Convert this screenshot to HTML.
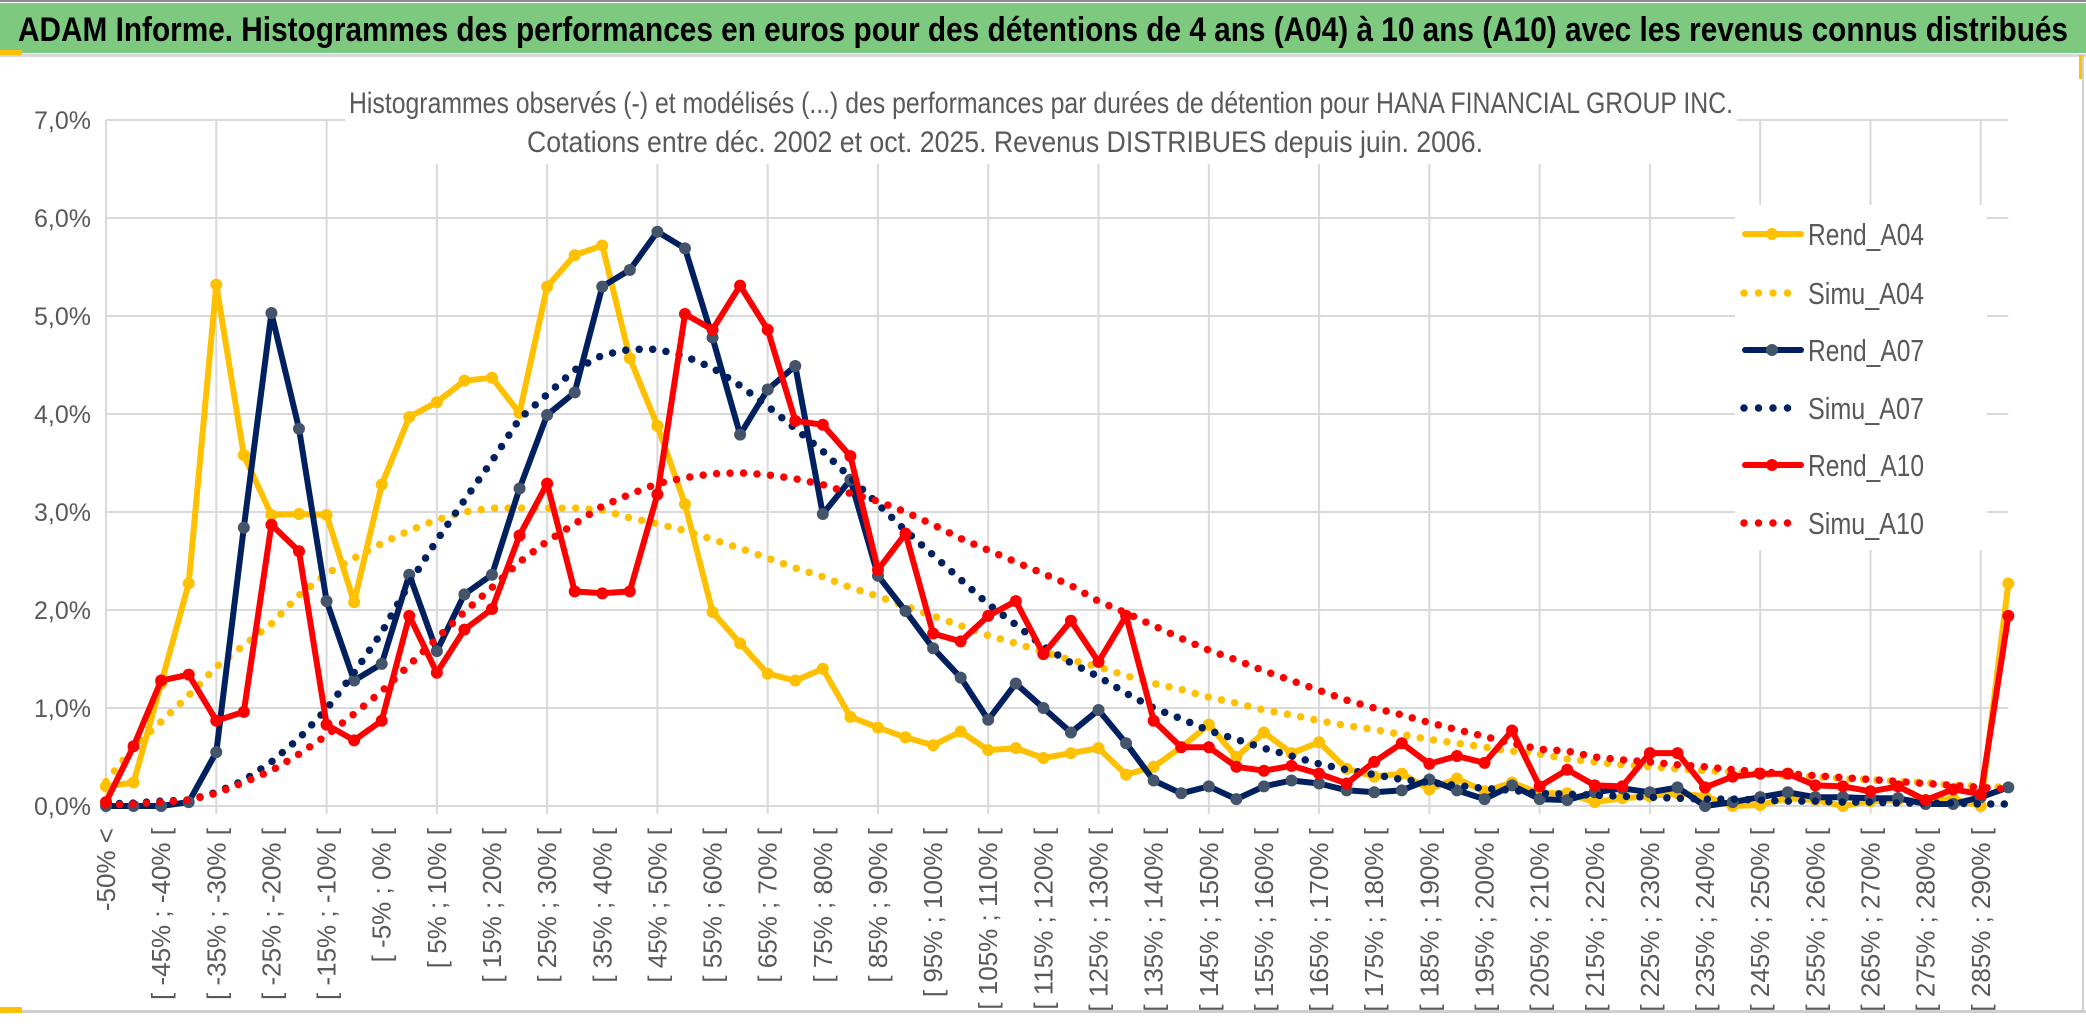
<!DOCTYPE html>
<html><head><meta charset="utf-8"><style>
html,body{margin:0;padding:0;background:#fff;}
svg{display:block;}
text{font-family:"Liberation Sans",sans-serif;}
</style></head><body>
<svg id="chart" width="2086" height="1033" viewBox="0 0 2086 1033" xmlns="http://www.w3.org/2000/svg">
<rect x="0" y="0" width="2086" height="1033" fill="#fff"/>
<rect x="0" y="0" width="2086" height="2" fill="#8a8a8a"/>
<rect x="0" y="3" width="2086" height="50" fill="#7dc97f"/>
<text x="18" y="41" font-size="34" font-weight="bold" fill="#000" textLength="2050" lengthAdjust="spacingAndGlyphs">ADAM Informe. Histogrammes des performances en euros pour des détentions de 4 ans (A04) à 10 ans (A10) avec les revenus connus distribués</text>
<rect x="0" y="54" width="2086" height="3" fill="#d9d9d9"/>
<rect x="0" y="50" width="22" height="5" fill="#ffc000"/>
<rect x="2079" y="55" width="4" height="24" fill="#ffc000"/>
<rect x="2082" y="57" width="2" height="955" fill="#d0d0d0"/>
<g id="grid"></g>
<rect x="345" y="80" width="1392" height="84" fill="#fff"/>
<text x="349" y="113" font-size="30" fill="#595959" textLength="1384" lengthAdjust="spacingAndGlyphs">Histogrammes observés (-) et modélisés (...) des performances par durées de détention pour HANA FINANCIAL GROUP INC.</text>
<text x="527" y="152" font-size="30" fill="#595959" textLength="956" lengthAdjust="spacingAndGlyphs">Cotations entre déc. 2002 et oct. 2025. Revenus DISTRIBUES depuis juin. 2006.</text>
<g id="yaxis"></g>
<g id="xaxis"></g>
<g id="series"></g>
<g id="legend"></g>
<rect x="0" y="1010" width="2086" height="3" fill="#cfcfcf"/>
<rect x="0" y="1007" width="22" height="6" fill="#ffc000"/>
</svg>
<script>
const categories = [];
categories.push("-50% <");
for (let k = 1; k < 70; k++) { const a = -50 + 5 * (k - 1); categories.push("[ " + a + "% ; " + (a + 5) + "% ["); }
const yTicks = [0,1,2,3,4,5,6,7];
const yTickLabels = ["0,0%","1,0%","2,0%","3,0%","4,0%","5,0%","6,0%","7,0%"];
const rendA04 = [0.20,0.24,1.25,2.27,5.32,3.58,2.97,2.98,2.97,2.08,3.28,3.97,4.12,4.34,4.37,4.01,5.30,5.62,5.72,
4.57,3.88,3.08,1.98,1.66,1.35,1.28,1.40,0.91,0.80,0.70,0.62,0.76,0.57,0.59,0.49,0.54,
0.59,0.32,0.40,0.60,0.83,0.50,0.75,0.54,0.65,0.38,0.30,0.33,0.17,0.28,0.15,0.24,0.13,
0.13,0.04,0.08,0.10,0.13,0.10,0.00,0.01,0.08,0.06,0.00,0.05,0.06,0.06,0.07,0.00,2.27];
const simuA04 = [0.25,0.60,0.86,1.13,1.42,1.64,1.86,2.15,2.37,2.53,2.68,2.81,2.92,3.00,3.04,3.04,3.04,3.04,3.02,
2.94,2.88,2.81,2.72,2.63,2.53,2.43,2.34,2.23,2.14,2.04,1.94,1.84,1.74,1.66,1.57,1.49,
1.42,1.33,1.25,1.19,1.11,1.05,0.98,0.93,0.87,0.82,0.78,0.73,0.68,0.64,0.60,0.56,0.53,
0.48,0.45,0.42,0.40,0.38,0.36,0.35,0.33,0.31,0.30,0.28,0.27,0.25,0.24,0.21,0.20,0.19];
const rendA07 = [0,0,0,0.04,0.55,2.84,5.03,3.85,2.09,1.28,1.45,2.36,1.58,2.16,2.36,3.24,3.99,4.22,5.30,
5.47,5.86,5.69,4.78,3.79,4.25,4.49,2.98,3.33,2.35,1.99,1.61,1.31,0.88,1.25,1.00,0.75,
0.98,0.64,0.26,0.13,0.20,0.07,0.20,0.26,0.23,0.16,0.14,0.16,0.27,0.16,0.07,0.21,0.07,
0.06,0.14,0.18,0.14,0.19,0.00,0.04,0.09,0.14,0.09,0.09,0.08,0.08,0.02,0.02,0.09,0.19];
const simuA07 = [0.02,0.03,0.05,0.06,0.14,0.26,0.45,0.69,0.99,1.36,1.77,2.27,2.71,3.12,3.52,3.95,4.20,4.45,4.60,
4.66,4.66,4.59,4.47,4.29,4.08,3.85,3.62,3.35,3.08,2.81,2.56,2.31,2.06,1.85,1.63,1.46,
1.32,1.15,1.00,0.89,0.77,0.68,0.59,0.51,0.43,0.37,0.32,0.27,0.24,0.21,0.18,0.16,0.13,
0.12,0.11,0.10,0.09,0.08,0.07,0.07,0.06,0.05,0.05,0.04,0.04,0.03,0.03,0.03,0.02,0.02];
const rendA10 = [0.04,0.61,1.28,1.34,0.87,0.96,2.87,2.60,0.83,0.67,0.87,1.94,1.36,1.80,2.01,2.76,3.29,2.19,2.17,
2.19,3.18,5.02,4.86,5.31,4.86,3.93,3.89,3.57,2.41,2.78,1.76,1.68,1.94,2.09,1.55,1.89,
1.47,1.94,0.87,0.60,0.60,0.40,0.36,0.41,0.33,0.23,0.45,0.64,0.43,0.51,0.44,0.77,0.20,
0.37,0.21,0.20,0.54,0.54,0.19,0.30,0.33,0.33,0.21,0.20,0.15,0.20,0.06,0.17,0.12,1.94];
const simuA10 = [0.01,0.02,0.04,0.06,0.13,0.24,0.36,0.53,0.72,0.94,1.17,1.44,1.71,1.98,2.23,2.49,2.70,2.88,3.06,
3.18,3.29,3.35,3.39,3.40,3.38,3.34,3.28,3.19,3.11,3.00,2.87,2.73,2.61,2.49,2.37,2.25,
2.09,1.97,1.84,1.71,1.59,1.49,1.38,1.28,1.18,1.08,1.00,0.93,0.85,0.78,0.71,0.64,0.58,
0.56,0.50,0.47,0.45,0.42,0.40,0.37,0.35,0.33,0.31,0.29,0.27,0.25,0.23,0.21,0.19,0.17];
const seriesNames = ["Rend_A04","Simu_A04","Rend_A07","Simu_A07","Rend_A10","Simu_A10"];

const NS = "http://www.w3.org/2000/svg";
const X0 = 106, DX = 27.57, Y0 = 806, DY = 98;
function xs(i){ return X0 + DX * i; }
function ys(v){ return Y0 - DY * v; }
function mk(tag, attrs, parent){ const e = document.createElementNS(NS, tag); for (const k in attrs) e.setAttribute(k, attrs[k]); parent.appendChild(e); return e; }

const grid = document.getElementById("grid");
const xRight = xs(categories.length - 1);
yTicks.forEach(function(t){
  const l = mk("line", {x1: X0, x2: xRight, y1: ys(t), y2: ys(t), stroke: "#d9d9d9", "stroke-width": 2}, grid);
  
  
});
for (let i = 0; i < categories.length; i += 4) {
  const l = mk("line", {x1: xs(i), x2: xs(i), y1: ys(7), y2: Y0 + 8, stroke: "#d9d9d9", "stroke-width": 2}, grid);
  
  
}

const yaxis = document.getElementById("yaxis");
yTicks.forEach(function(t, k){
  const tx = mk("text", {x: 91, y: ys(t) + 9, "font-size": 25, fill: "#595959", "text-anchor": "end"}, yaxis);
  tx.textContent = yTickLabels[k];
  
  
});

const xaxis = document.getElementById("xaxis");
for (let i = 0; i < categories.length; i += 2) {
  const cx = xs(i) + 9, cy = 828;
  const tx = mk("text", {x: cx, y: cy, "font-size": 26, fill: "#595959", "text-anchor": "end", transform: "rotate(-90 " + cx + " " + cy + ")"}, xaxis);
  tx.textContent = categories[i];
  
  
}

const seriesG = document.getElementById("series");
function pts(arr){ return arr.map(function(v, i){ return xs(i).toFixed(1) + "," + ys(v).toFixed(1); }).join(" "); }
function drawRend(arr, color, mcolor, name){
  const g = mk("g", {}, seriesG);
  
  
  const pl = mk("polyline", {points: pts(arr), fill: "none", stroke: color, "stroke-width": 6, "stroke-linejoin": "round", "stroke-linecap": "round"}, g);
  
  
  arr.forEach(function(v, i){
    const c = mk("circle", {cx: xs(i), cy: ys(v), r: 6, fill: mcolor}, g);
    
    
  });
}
function drawSimu(arr, color, name){
  const pl = mk("polyline", {points: pts(arr), fill: "none", stroke: color, "stroke-width": 7.5, "stroke-linecap": "round", "stroke-dasharray": "0 13.5"}, seriesG);
  
  
}
drawRend(rendA04, "#ffc000", "#ffc000", "series-rend-a04");
drawSimu(simuA04, "#ffc000", "series-simu-a04");
drawRend(rendA07, "#002060", "#44546a", "series-rend-a07");
drawSimu(simuA07, "#002060", "series-simu-a07");
drawRend(rendA10, "#ff0000", "#ff0000", "series-rend-a10");
drawSimu(simuA10, "#ff0000", "series-simu-a10");

const legend = document.getElementById("legend");
mk("rect", {x: 1735, y: 205, width: 252, height: 345, fill: "#fff"}, legend);
const legColors = ["#ffc000","#ffc000","#002060","#002060","#ff0000","#ff0000"];
const legMarker = ["#ffc000",null,"#44546a",null,"#ff0000",null];
const legY = [234, 293, 350, 408, 465, 523];
seriesNames.forEach(function(n, k){
  const g = mk("g", {}, legend);
  
  
  const y = legY[k];
  if (legMarker[k]) {
    mk("line", {x1: 1745, x2: 1801, y1: y, y2: y, stroke: legColors[k], "stroke-width": 6, "stroke-linecap": "round"}, g);
    mk("circle", {cx: 1772, cy: y, r: 6, fill: legMarker[k]}, g);
  } else {
    mk("line", {x1: 1744, x2: 1800, y1: y, y2: y, stroke: legColors[k], "stroke-width": 7.5, "stroke-linecap": "round", "stroke-dasharray": "0 14.5"}, g);
  }
  const tx = mk("text", {x: 1808, y: y + 11, "font-size": 31, fill: "#595959", textLength: 116, lengthAdjust: "spacingAndGlyphs"}, g);
  tx.textContent = n;
});
</script>
</body></html>
